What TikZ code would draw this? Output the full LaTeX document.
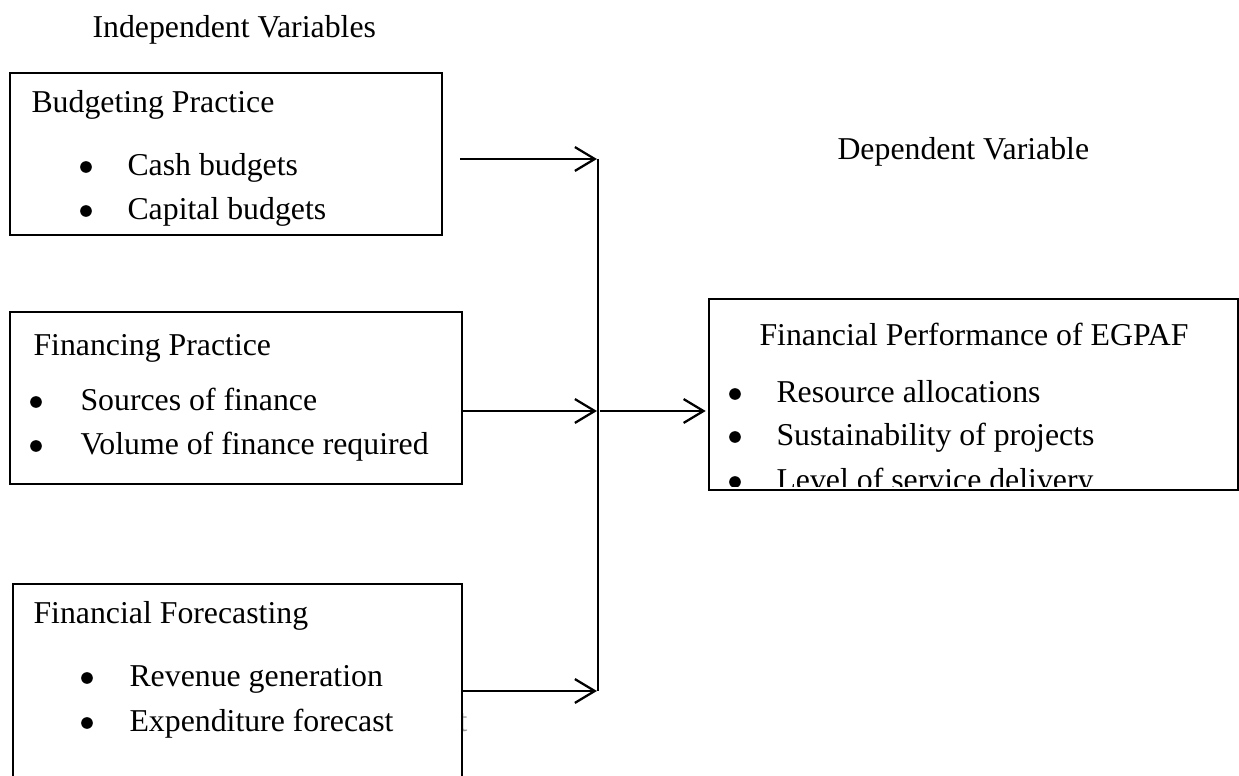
\documentclass[tikz,border=0pt]{standalone}
\usepackage{fontspec}
\setmainfont{Liberation Serif}
\usetikzlibrary{arrows.meta,fit}

\begin{document}
\begin{tikzpicture}[
    x=0.3774pt,y=-0.3774pt,
    every node/.style={font=\fontsize{12pt}{14pt}\selectfont},
    txt/.style={anchor=base west,inner sep=0pt},
    varbox/.style={draw,line width=0.5pt,inner sep=0pt,fill=white},
    linkarrow/.style={->,>={Straight Barb[length=7.5pt,width=9pt]},line width=0.85pt}
]
    % page is 1239 x 776, one unit is one pixel, y runs down
    \useasboundingbox (0,0) rectangle (1239,776);

    % stray letter behind the third box
    \node[txt,text=gray!80] (stray) at (458,732) {t};

    % headings
    \node[txt] (indep) at (92,38) {Independent Variables};
    \node[txt] (dep) at (837,160) {Dependent Variable};

    % boxes
    \node[varbox,fit={(10,73) (442,235)}] (budget) {};
    \node[varbox,fit={(10,312) (462,484)}] (financing) {};
    \node[varbox,fit={(13,584) (462,800)}] (forecast) {};
    \node[varbox,fit={(709,299) (1238,490)}] (perf) {};

    % Budgeting Practice
    \begin{scope}
        \clip (10,73) rectangle (442,227);
        \node[txt] (budgettitle) at (31,113) {Budgeting Practice};
        \node[txt] (cash) at (127,176) {Cash budgets};
        \node[txt] (capital) at (127,220) {Capital budgets};
        \foreach \by in {167,211}{
            \fill (86,\by) circle[radius=2.2pt];
        }
    \end{scope}

    % Financing Practice
    \node[txt] (fintitle) at (33,356) {Financing Practice};
    \node[txt] (sources) at (80,411) {Sources of finance};
    \node[txt] (volume) at (80,455) {Volume of finance required};
    \foreach \by in {402,446}{
        \fill (36,\by) circle[radius=2.2pt];
    }

    % Financial Forecasting
    \node[txt] (foretitle) at (33,624) {Financial Forecasting};
    \node[txt] (revenue) at (129,687) {Revenue generation};
    \node[txt] (expend) at (129,732) {Expenditure forecast};
    \foreach \by in {678,723}{
        \fill (87,\by) circle[radius=2.2pt];
    }

    % Financial Performance of EGPAF
    \begin{scope}
        \clip (709,299) rectangle (1238,487);
        \node[txt] (perftitle) at (759,346) {Financial Performance of EGPAF};
        \node[txt] (resource) at (776,403) {Resource allocations};
        \node[txt] (sustain) at (776,446) {Sustainability of projects};
        \node[txt] (service) at (776,491) {Level of service delivery};
        \foreach \by in {394,437,482}{
            \fill (735,\by) circle[radius=2.2pt];
        }
    \end{scope}

    % joining line
    \coordinate (jtop) at (598,159);
    \coordinate (jmid) at (598,411);
    \coordinate (jbot) at (598,691);
    \coordinate (budgetout) at (460,159);
    \draw[line width=0.6pt] (jtop) -- (jbot);

    \draw[linkarrow] (budgetout) -- ([xshift=-0.4pt]jtop);
    \draw[linkarrow] (financing.east |- jmid) -- ([xshift=-0.4pt]jmid);
    \draw[linkarrow] (forecast.east |- jbot) -- ([xshift=-0.4pt]jbot);
    \draw[linkarrow] ([xshift=0.8pt]jmid) -- ([xshift=-1pt]perf.west |- jmid);

\end{tikzpicture}
\end{document}
